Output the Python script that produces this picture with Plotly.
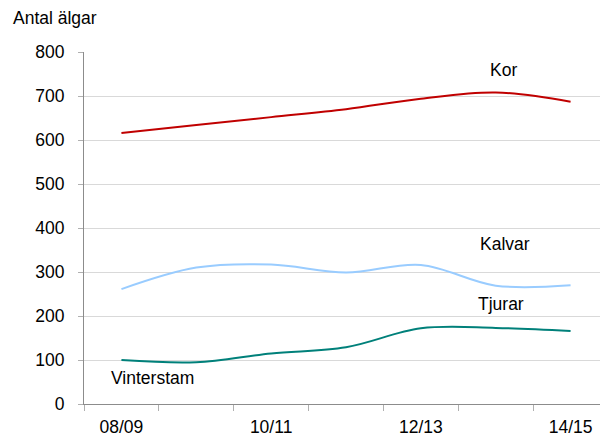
import plotly.graph_objects as go

categories = ["08/09", "09/10", "10/11", "11/12", "12/13", "13/14", "14/15"]
kor = [616, 634, 652, 670, 694, 708, 687]
kalvar = [261, 310, 317, 299, 316, 269, 270]
tjurar = [100, 95, 115, 129, 172, 173, 166]
shown_labels = ["08/09", "10/11", "12/13", "14/15"]

idx = list(range(len(categories)))
FONT = "Liberation Sans, Arial, sans-serif"
FS = 17.5

fig = go.Figure()
for vals, color, name in [(kor, "#c00000", "Kor"), (kalvar, "#99ccff", "Kalvar"), (tjurar, "#00807a", "Tjurar")]:
    fig.add_trace(go.Scatter(x=idx, y=vals, mode="lines", name=name,
                             line=dict(color=color, width=2, shape="spline", smoothing=1),
                             hoverinfo="skip"))

ticktext = [c if c in shown_labels else "" for c in categories]

# page body has an 8px default margin; figure is sized to fill the rest
fig.update_layout(
    width=600, height=429,
    margin=dict(l=76, r=0, t=44, b=33),
    paper_bgcolor="white", plot_bgcolor="white",
    showlegend=False,
    font=dict(family=FONT, size=FS, color="#000000"),
    xaxis=dict(
        range=[-0.5, len(categories) - 0.5],
        automargin=False,
        tickmode="array", tickvals=idx, ticktext=ticktext,
        ticks="", ticklabelstandoff=7,
        showgrid=False, zeroline=False,
        showline=True, linecolor="#8c8c8c", linewidth=1,
        minor=dict(tickmode="array", tickvals=[i - 0.5 for i in range(len(categories) + 1)],
                   ticks="outside", ticklen=6, tickcolor="#b0b0b0", showgrid=False),
        tickfont=dict(size=FS),
    ),
    yaxis=dict(
        range=[0, 800], dtick=100, tick0=0,
        automargin=False,
        ticks="outside", ticklen=5, tickcolor="#b0b0b0",
        ticklabelstandoff=10,
        showgrid=True, gridcolor="#d9d9d9", gridwidth=1,
        zeroline=False,
        showline=True, linecolor="#8c8c8c", linewidth=1,
        tickfont=dict(size=FS),
    ),
    annotations=[
        dict(text="Antal älgar", xref="paper", yref="paper", x=-0.139, y=1.097,
             xanchor="left", yanchor="middle", showarrow=False, font=dict(size=FS)),
        dict(text="Kor", x=5.1, y=759, xanchor="center", yanchor="middle", showarrow=False),
        dict(text="Kalvar", x=5.13, y=364, xanchor="center", yanchor="middle", showarrow=False),
        dict(text="Tjurar", x=5.07, y=227, xanchor="center", yanchor="middle", showarrow=False),
        dict(text="Vinterstam", x=0.41, y=59, xanchor="center", yanchor="middle", showarrow=False),
    ],
)

fig.write_html("out.html")
